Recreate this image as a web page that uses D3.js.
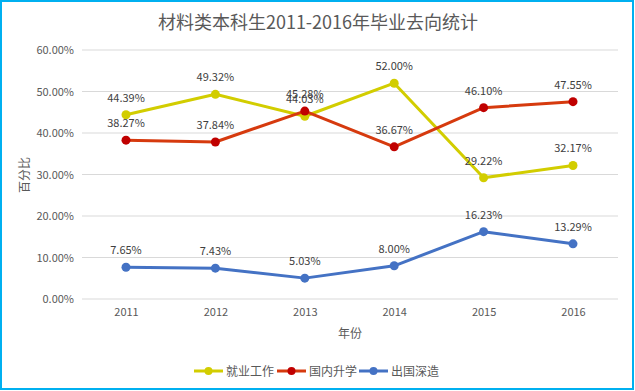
<!DOCTYPE html>
<html><head><meta charset="utf-8">
<script src="https://cdn.jsdelivr.net/npm/d3@7/dist/d3.min.js"></script>
<style>body{margin:0;background:#fff;}svg{display:block;}</style>
</head><body>
<svg id="c" width="635" height="391"></svg>
<script>
const years = ["2011","2012","2013","2014","2015","2016"];
const seriesNames = ["就业工作","国内升学","出国深造"];
const employment = [44.39,49.32,44.03,52.00,29.22,32.17];
const domestic = [38.27,37.84,45.28,36.67,46.10,47.55];
const abroad = [7.65,7.43,5.03,8.00,16.23,13.29];
const yTicks = [0,10,20,30,40,50,60];
const lineColors = ["#D2CD00","#D63A0E","#4472C4"];
const markerColors = ["#D2CD00","#C00000","#4472C4"];
const seriesValues = [employment, domestic, abroad];

const svg = d3.select("#c");
const font = "'Noto Sans CJK SC','Noto Sans',sans-serif";
svg.append("rect").attr("x",1).attr("y",1).attr("width",632).attr("height",388)
  .attr("fill","#fff").attr("stroke","#00B0F0").attr("stroke-width",2);

const x = d3.scalePoint().domain(years).range([126,573]);
const y = d3.scaleLinear().domain([0,60]).range([299,50]);

// gridlines
svg.append("g").selectAll("line").data(yTicks).join("line")
  .attr("x1",82).attr("x2",618).attr("y1",d=>y(d)).attr("y2",d=>y(d))
  .attr("stroke","#D9D9D9").attr("stroke-width",1);

// y axis labels
const yAxis = d3.axisLeft(y).tickValues(yTicks).tickFormat(d=>d.toFixed(2)+"%").tickSize(0).tickPadding(0);
const gy = svg.append("g").attr("transform","translate(74,0)").call(yAxis);
gy.select(".domain").remove();
gy.selectAll("text").attr("font-family",font).attr("font-size",11).attr("fill","#595959");

// x axis labels
const xAxis = d3.axisBottom(x).tickSize(0).tickPadding(0);
const gx = svg.append("g").attr("transform","translate(0,308)").call(xAxis);
gx.select(".domain").remove();
gx.selectAll("text").attr("font-family",font).attr("font-size",11).attr("fill","#595959");

// title
svg.append("text").attr("x",318).attr("y",29).attr("text-anchor","middle")
  .attr("font-family",font).attr("font-size",18).attr("fill","#595959")
  .text("材料类本科生2011-2016年毕业去向统计");
// axis titles
svg.append("text").attr("transform","translate(29,175) rotate(-90)").attr("text-anchor","middle")
  .attr("font-family",font).attr("font-size",12).attr("fill","#595959").text("百分比");
svg.append("text").attr("x",350).attr("y",338).attr("text-anchor","middle")
  .attr("font-family",font).attr("font-size",12).attr("fill","#595959").text("年份");

const line = d3.line().x((d,i)=>x(years[i])).y(d=>y(d));
seriesValues.forEach((vals,si)=>{
  const g = svg.append("g");
  g.append("path").datum(vals).attr("d",line).attr("fill","none")
    .attr("stroke",lineColors[si]).attr("stroke-width",3).attr("stroke-linejoin","round");
  g.selectAll("circle").data(vals).join("circle")
    .attr("cx",(d,i)=>x(years[i])).attr("cy",d=>y(d)).attr("r",4.5)
    .attr("fill",markerColors[si]);
  g.selectAll("text").data(vals).join("text")
    .attr("x",(d,i)=>x(years[i])).attr("y",d=>y(d)-13).attr("text-anchor","middle")
    .attr("font-family",font).attr("font-size",11).attr("fill","#404040")
    .text(d=>d.toFixed(2)+"%");
});

// legend
const legX = [194,277,359];
seriesNames.forEach((n,i)=>{
  const g = svg.append("g").attr("transform",`translate(${legX[i]},371)`);
  g.append("line").attr("x1",0).attr("x2",29).attr("y1",0).attr("y2",0)
    .attr("stroke",lineColors[i]).attr("stroke-width",3);
  g.append("circle").attr("cx",14.5).attr("cy",0).attr("r",4).attr("fill",markerColors[i]);
  g.append("text").attr("x",32).attr("y",4.5).attr("font-family",font).attr("font-size",12)
    .attr("fill","#595959").text(n);
});
</script>
</body></html>
